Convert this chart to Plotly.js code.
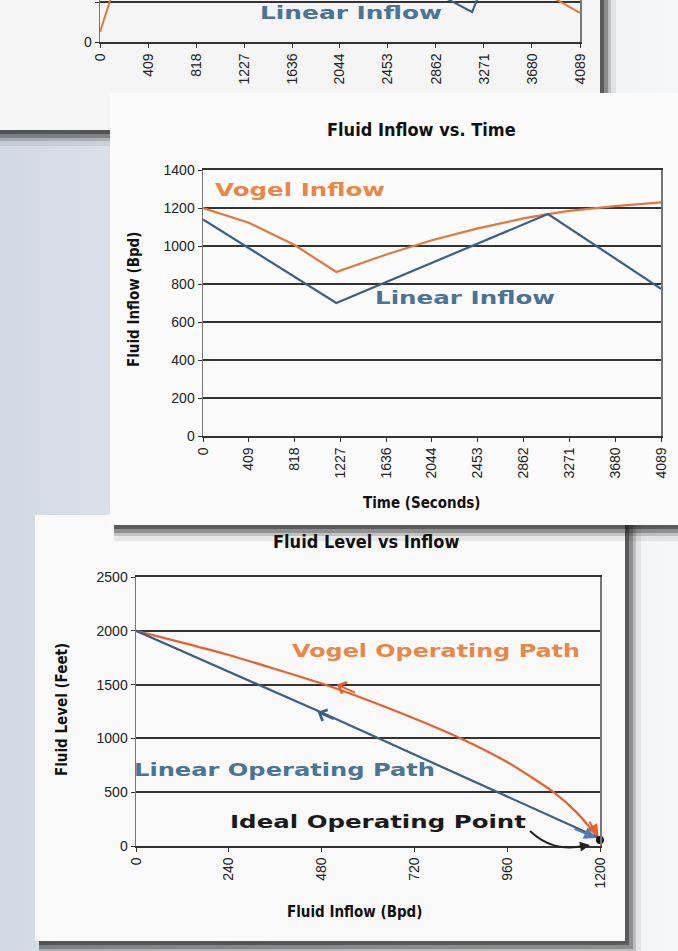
<!DOCTYPE html>
<html><head><meta charset="utf-8">
<script src="https://cdn.plot.ly/plotly-3.0.1.min.js"></script>
<style>
html,body{margin:0;padding:0;width:678px;height:951px;overflow:hidden;
background:linear-gradient(90deg,#d1d9e3 0%,#dbe2ea 20%,#e9edf1 55%,#f5f6f7 100%);}
#chart{width:678px;height:951px;}
</style></head><body><div id="chart"></div>
<script>
// ---------- data ----------
const timeTicks = [0, 409, 818, 1227, 1636, 2044, 2453, 2862, 3271, 3680, 4089];
const inflowTicks = [0, 240, 480, 720, 960, 1200];

// top card (cropped): only the bottom of the chart is visible
const topVogelTime  = [0, 90, 3880, 4089];
const topVogelValue = [50, 215, 215, 145];
const topLinearTime  = [2960, 3170, 3215];
const topLinearValue = [215, 150, 215];

// middle card: fluid inflow vs time
const vogelTime = [0, 409, 818, 1190, 1636, 2044, 2453, 2862, 3080, 3271, 3680, 4089];
const vogelFlow = [1200, 1122, 1005, 863, 955, 1030, 1093, 1145, 1168, 1185, 1210, 1230];
const linearTime = [0, 1190, 3080, 4089];
const linearFlow = [1140, 700, 1168, 775];

// bottom card: fluid level vs inflow
const vogelInflow = [0, 120, 240, 360, 480, 600, 720, 840, 960, 1080, 1140, 1200];
const vogelLevel  = [2000, 1890, 1775, 1645, 1510, 1355, 1185, 1000, 780, 500, 310, 60];
const linearInflow = [0, 480, 1200];
const linearLevel  = [2000, 1240, 70];
const idealInflow = [1200];
const idealLevel  = [55];

// ---------- layout helpers ----------
const W = 678, H = 951;
const px = x => x / W;
const py = y => 1 - y / H;

const ORANGE = '#e2783c', ORANGE3 = '#e8602e', BLUE = '#3b5f86';
const TXT_OR = '#ea8647', TXT_BL = '#4a7394';
const NARROW = 'Liberation Sans Narrow, Arial Narrow, DejaVu Sans Condensed, sans-serif';
const tickFont = {family: 'Liberation Sans, Arial, sans-serif', size: 14, color: '#222'};
const titleFont = {family: NARROW, size: 18, color: '#111', weight: 'bold'};
const axTitleFont = {family: NARROW, size: 15, color: '#111', weight: 'bold'};
const labelFont = c => ({family: 'DejaVu Sans, Verdana, sans-serif', size: 17, color: c, weight: 'bold'});

function xax(dom, anchor, range, ticks) {
  return {domain: dom, anchor: anchor, range: range, tickvals: ticks, ticktext: ticks.map(String),
    tickangle: -90, ticks: 'outside', ticklen: 4, tickcolor: '#333', tickfont: tickFont,
    showline: true, mirror: true, linecolor: '#333', linewidth: 1.8, showgrid: false, zeroline: false, fixedrange: true};
}
function yax(dom, anchor, range, dtick) {
  return {domain: dom, anchor: anchor, range: range, dtick: dtick, ticks: 'outside', ticklen: 4,
    tickcolor: '#333', tickfont: tickFont, showline: true, linecolor: '#777', linewidth: 1.5,
    mirror: true, showgrid: true, gridcolor: '#333', gridwidth: 2, zeroline: false, fixedrange: true};
}

const traces = [
  {x: topVogelTime, y: topVogelValue, xaxis: 'x', yaxis: 'y', mode: 'lines', line: {color: ORANGE, width: 2}},
  {x: topLinearTime, y: topLinearValue, xaxis: 'x', yaxis: 'y', mode: 'lines', line: {color: BLUE, width: 2}},
  {x: vogelTime, y: vogelFlow, xaxis: 'x2', yaxis: 'y2', mode: 'lines', line: {color: ORANGE, width: 2.2}},
  {x: linearTime, y: linearFlow, xaxis: 'x2', yaxis: 'y2', mode: 'lines', line: {color: BLUE, width: 2.2}},
  {x: vogelInflow, y: vogelLevel, xaxis: 'x3', yaxis: 'y3', mode: 'lines', line: {color: ORANGE3, width: 2.2, shape: 'spline', smoothing: 0.6}},
  {x: linearInflow, y: linearLevel, xaxis: 'x3', yaxis: 'y3', mode: 'lines', line: {color: BLUE, width: 2.2}},
  {x: idealInflow, y: idealLevel, xaxis: 'x3', yaxis: 'y3', mode: 'markers', cliponaxis: false,
   marker: {color: '#111', size: 8}}
];

function rect(x0, y0, x1, y1, fill) {
  return {type: 'rect', xref: 'paper', yref: 'paper', x0: px(x0), x1: px(x1), y0: py(y1), y1: py(y0),
    fillcolor: fill, line: {width: 0}, layer: 'below'};
}
// soft shadow along the right and bottom edges of a card
function shadow(x0, y0, x1, y1, d) {
  const out = [];
  const steps = [[0, 0.45], [0.3, 0.3], [0.6, 0.18], [1, 0.08]];
  steps.forEach(([f, a]) => {
    const e = Math.round(4 + f * d);
    out.push(rect(x0 + 4, y0 + 4, x1 + e, y1 + e, `rgba(30,30,30,${a})`));
  });
  return out;
}
const shapes = [
  ...shadow(-20, -20, 600, 130, 12), rect(-20, -20, 600, 130, '#f5f5f5'),
  ...shadow(35, 515, 625, 941, 12), rect(35, 515, 625, 941, '#f9f9f9'),
  ...shadow(110, 93, 700, 525, 12), rect(110, 93, 700, 525, '#fbfbfb'),
  {type: 'path', xref: 'paper', yref: 'paper', layer: 'above',
   path: `M ${px(530)} ${py(831)} C ${px(546)} ${py(846)}, ${px(562)} ${py(850)}, ${px(584)} ${py(846)}`,
   line: {color: '#222', width: 2}}
];

function txt(text, x, y, font, opts) {
  return Object.assign({text: text, xref: 'paper', yref: 'paper', x: px(x), y: py(y),
    xanchor: 'center', yanchor: 'middle', showarrow: false, font: font}, opts || {});
}
function label(text, x, y, color, width) {
  return txt(text, x, y, labelFont(color), {xanchor: 'left', align: 'left', fitWidth: width});
}
function arrow(xr, yr, x, y, ax, ay, color, head) {
  return {xref: xr, yref: yr, axref: xr, ayref: yr, x: x, y: y, ax: ax, ay: ay, text: '',
    showarrow: true, arrowhead: head, arrowsize: 1.2, arrowwidth: 2, arrowcolor: color};
}

const annotations = [
  txt('Fluid Inflow vs. Time', 421, 129, titleFont),
  txt('Fluid Level vs Inflow', 366, 541, titleFont),
  txt('Time (Seconds)', 422, 503, axTitleFont),
  txt('Fluid Inflow (Bpd)', 134, 300, axTitleFont, {textangle: -90}),
  txt('Fluid Inflow (Bpd)', 354, 912, axTitleFont),
  txt('Fluid Level (Feet)', 62, 710, axTitleFont, {textangle: -90}),
  label('Linear Inflow', 258, 13, TXT_BL, 182),
  label('Vogel Inflow', 213, 190, TXT_OR, 170),
  label('Linear Inflow', 373, 298, TXT_BL, 180),
  label('Vogel Operating Path', 290, 651, TXT_OR, 288),
  label('Linear Operating Path', 132, 770, TXT_BL, 301),
  label('Ideal Operating Point', 228, 822, '#1a1a1a', 296),
  arrow('x3', 'y3', 520, 1500, 570, 1420, ORANGE3, 4),
  arrow('x3', 'y3', 470, 1245, 515, 1172, BLUE, 4),
  arrow('x3', 'y3', 1196, 90, 1170, 240, ORANGE3, 2),
  arrow('x3', 'y3', 1190, 75, 1130, 165, '#4f7fb0', 2),
  {xref: 'paper', yref: 'paper', x: px(590), y: py(845), ax: -12, ay: 2, text: '', showarrow: true,
   arrowhead: 2, arrowsize: 1, arrowwidth: 2, arrowcolor: '#222'}
];
const fitWidths = {};
annotations.forEach((a, i) => { if (a.fitWidth) { fitWidths[i] = a.fitWidth; } delete a.fitWidth; });

const layout = {
  width: W, height: H, margin: {l: 0, r: 0, t: 0, b: 0},
  paper_bgcolor: 'rgba(0,0,0,0)', plot_bgcolor: 'rgba(0,0,0,0)', showlegend: false,
  xaxis: xax([px(100), px(580)], 'y', [0, 4089], timeTicks),
  yaxis: yax([py(42), 1], 'x', [0, 210], 200),
  xaxis2: xax([px(203), px(661)], 'y2', [0, 4089], timeTicks),
  yaxis2: yax([py(436), py(170)], 'x2', [0, 1400], 200),
  xaxis3: xax([px(136), px(600)], 'y3', [0, 1200], inflowTicks),
  yaxis3: yax([py(846), py(577)], 'x3', [0, 2500], 500),
  shapes: shapes, annotations: annotations
};

Plotly.newPlot('chart', traces, layout, {displayModeBar: false, staticPlot: true}).then(() => {
  document.querySelectorAll('.annotation').forEach(g => {
    const i = +g.getAttribute('data-index');
    if (fitWidths[i]) {
      const t = g.querySelector('.annotation-text');
      if (t) {
        t.setAttribute('textLength', fitWidths[i]);
        t.setAttribute('lengthAdjust', 'spacingAndGlyphs');
      }
    }
  });
});
</script></body></html>
